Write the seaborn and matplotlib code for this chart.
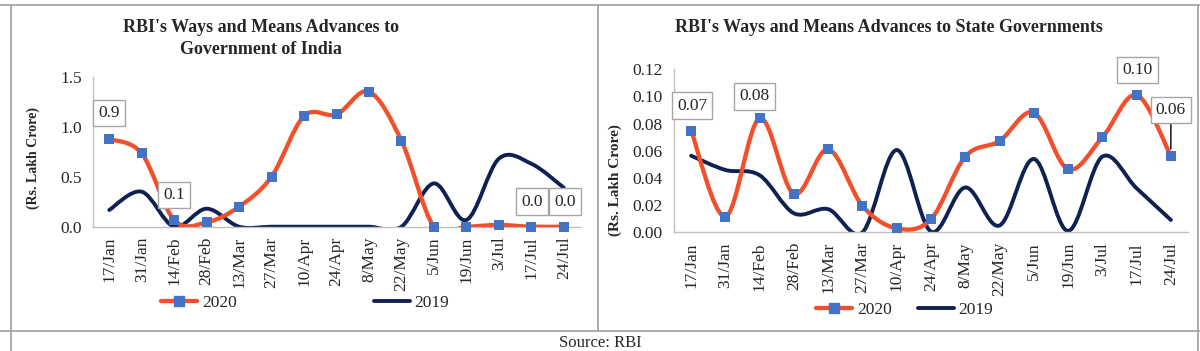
import numpy as np
import pandas as pd
import matplotlib
matplotlib.use('Agg')
import matplotlib.pyplot as plt
from matplotlib.path import Path
from matplotlib.patches import PathPatch
from matplotlib.lines import Line2D
from matplotlib.ticker import FormatStrFormatter, MultipleLocator
import seaborn as sns

# =============================================================================
# DATOS
# =============================================================================
fechas = ['17/Jan', '31/Jan', '14/Feb', '28/Feb', '13/Mar', '27/Mar', '10/Apr', '24/Apr',
          '8/May', '22/May', '5/Jun', '19/Jun', '3/Jul', '17/Jul', '24/Jul']

# Gobierno de la India (Rs. Lakh Crore)
goi_2020 = [0.877, 0.733, 0.067, 0.043, 0.20, 0.50, 1.107, 1.123, 1.35, 0.86,
            0.0, 0.0, 0.017, 0.0, 0.0]
goi_2019 = [0.167, 0.35, 0.0, 0.18, 0.0, 0.0, 0.0, 0.0, 0.0, 0.0,
            0.433, 0.067, 0.68, 0.63, 0.39]

# Gobiernos estatales (Rs. Lakh Crore)
sg_2020 = [0.0748, 0.0115, 0.0839, 0.0282, 0.0611, 0.0194, 0.0029, 0.0096, 0.0557,
           0.0672, 0.0881, 0.0464, 0.0699, 0.1011, 0.0562]
sg_2019 = [0.0564, 0.0459, 0.042, 0.014, 0.017, 0.0, 0.0606, 0.0005, 0.033,
           0.005, 0.054, 0.001, 0.0557, 0.0324, 0.0091]

# puntos con etiqueta de dato: (índice, desplazamiento x px, desplazamiento y px, línea guía)
etiquetas_goi = [(0, 0, 26, False), (2, 0, 25, False), (13, 1, 25, False), (14, 1, 25, False)]
etiquetas_sg = [(0, 1, 25, False), (2, -5, 22, False), (13, 1, 25, False), (14, 0, 46, True)]

NARANJA = '#F2502A'
AZUL = '#4472C4'
MARINO = '#0E2152'
GRIS = '#A6A6A6'

sns.set_style('white')
plt.rcParams['font.family'] = ['Liberation Serif', 'DejaVu Serif']

W, H = 1200, 351
fig = plt.figure(figsize=(W / 100, H / 100), dpi=100)


def caja(x0, y0, x1, y1):
    # convierte píxeles (origen arriba-izquierda) a coordenadas de figura
    return [x0 / W, 1 - y1 / H, (x1 - x0) / W, (y1 - y0) / H]


def curva_suave(ax, valores, color, lw, z):
    # línea suavizada tipo Excel (Bezier de Catmull-Rom) a partir de los datos
    y = np.asarray(valores, dtype=float)
    x = np.arange(len(y), dtype=float)
    n = len(y)
    verts = [(x[0], y[0])]
    codes = [Path.MOVETO]
    for i in range(n - 1):
        i0 = max(i - 1, 0)
        i3 = min(i + 2, n - 1)
        c1 = (x[i] + (x[i + 1] - x[i0]) / 6, y[i] + (y[i + 1] - y[i0]) / 6)
        c2 = (x[i + 1] - (x[i3] - x[i]) / 6, y[i + 1] - (y[i3] - y[i]) / 6)
        verts += [c1, c2, (x[i + 1], y[i + 1])]
        codes += [Path.CURVE4] * 3
    ax.add_patch(PathPatch(Path(verts, codes), fill=False, edgecolor=color,
                           lw=lw, zorder=z, capstyle='round', joinstyle='round'))


def panel(ax, v2020, v2019, ymax, paso, fmt, etiquetas):
    x = np.arange(len(fechas))
    curva_suave(ax, v2019, MARINO, 2.8, 2)
    curva_suave(ax, v2020, NARANJA, 3.1, 3)
    df = pd.DataFrame({'x': x, 'y': v2020})
    sns.scatterplot(data=df, x='x', y='y', marker='s', s=56, color=AZUL,
                    edgecolor=AZUL, linewidth=0, zorder=4, ax=ax, clip_on=False)

    ax.set_xlim(-0.5, len(fechas) - 0.5)
    ax.set_ylim(0, ymax)
    ax.set_xticks(x)
    ax.set_xticklabels(fechas, rotation=90, fontsize=12.5)
    ax.set_xticks(np.arange(-0.5, len(fechas), 1.0), minor=True)
    ax.tick_params(axis='x', which='major', length=0, pad=7)
    ax.tick_params(axis='x', which='minor', length=4, width=1, color='#BFBFBF', direction='out')
    ax.yaxis.set_major_locator(MultipleLocator(paso))
    ax.yaxis.set_major_formatter(FormatStrFormatter(fmt))
    ax.tick_params(axis='y', length=0, pad=8, labelsize=12.5)
    ax.set_xlabel('')
    ax.set_ylabel('')
    for lado in ['top', 'right']:
        ax.spines[lado].set_visible(False)
    for lado in ['left', 'bottom']:
        ax.spines[lado].set_color('#BFBFBF')
        ax.spines[lado].set_linewidth(1.0)

    for idx, dx, dy, guia in etiquetas:
        props = dict(arrowstyle='-', color='black', lw=1, shrinkA=0, shrinkB=5) if guia else None
        ax.annotate(fmt % v2020[idx], xy=(idx, v2020[idx]), xytext=(dx * 0.72, dy * 0.72),
                    textcoords='offset points', ha='center', va='center', fontsize=12.5,
                    bbox=dict(boxstyle='square,pad=0.3', fc='white', ec=GRIS, lw=1),
                    arrowprops=props, zorder=6)


def leyenda(ax, x_px, y_px, espacio):
    h2020 = Line2D([], [], color=NARANJA, lw=3.1, marker='s', markersize=7.5,
                   markerfacecolor=AZUL, markeredgecolor=AZUL)
    h2019 = Line2D([], [], color=MARINO, lw=2.8)
    ax.legend([h2020, h2019], ['2020', '2019'], loc='center left',
              bbox_to_anchor=(x_px / W, 1 - y_px / H), bbox_transform=fig.transFigure,
              ncol=2, frameon=False, fontsize=12.5, handlelength=2.1, handletextpad=0.25,
              columnspacing=espacio, borderpad=0, borderaxespad=0)


# =============================================================================
# PANEL IZQUIERDO: GOBIERNO DE LA INDIA
# =============================================================================
ax1 = fig.add_axes(caja(93, 76.7, 580, 226.7))
panel(ax1, goi_2020, goi_2019, 1.5, 0.5, '%.1f', etiquetas_goi)
ax1.set_ylabel('(Rs. Lakh Crore)', fontsize=10, fontweight='bold')
ax1.yaxis.set_label_coords((40 - 93) / 487, (226.7 - 158) / 150)
leyenda(ax1, 161, 303, 7.9)
fig.text(261 / W, 1 - 28 / H, "RBI's Ways and Means Advances to", ha='center', va='center',
         fontsize=13, fontweight='bold')
fig.text(261 / W, 1 - 50 / H, "Government of India", ha='center', va='center',
         fontsize=13, fontweight='bold')

# =============================================================================
# PANEL DERECHO: GOBIERNOS ESTATALES
# =============================================================================
ax2 = fig.add_axes(caja(674, 69.3, 1188, 232.3))
panel(ax2, sg_2020, sg_2019, 0.12, 0.02, '%.2f', etiquetas_sg)
ax2.set_ylabel('(Rs. Lakh Crore)', fontsize=11, fontweight='bold')
ax2.yaxis.set_label_coords((622 - 674) / 514, (232.3 - 180) / 163)
leyenda(ax2, 816, 310, 1.5)
fig.text(889 / W, 1 - 28 / H, "RBI's Ways and Means Advances to State Governments",
         ha='center', va='center', fontsize=13, fontweight='bold')

# =============================================================================
# MARCO Y FUENTE
# =============================================================================
def linea(x0, y0, x1, y1):
    fig.add_artist(Line2D([x0 / W, x1 / W], [1 - y0 / H, 1 - y1 / H],
                          transform=fig.transFigure, color=GRIS, lw=1.3))

linea(0, 5, W, 5)
linea(11, 5, 11, H)
linea(1198, 5, 1198, H)
linea(598, 5, 598, 330.7)
linea(0, 330.7, W, 330.7)
fig.text(600 / W, 1 - 343 / H, 'Source: RBI', ha='center', va='center', fontsize=12)

fig.savefig('out.png', dpi=100)
